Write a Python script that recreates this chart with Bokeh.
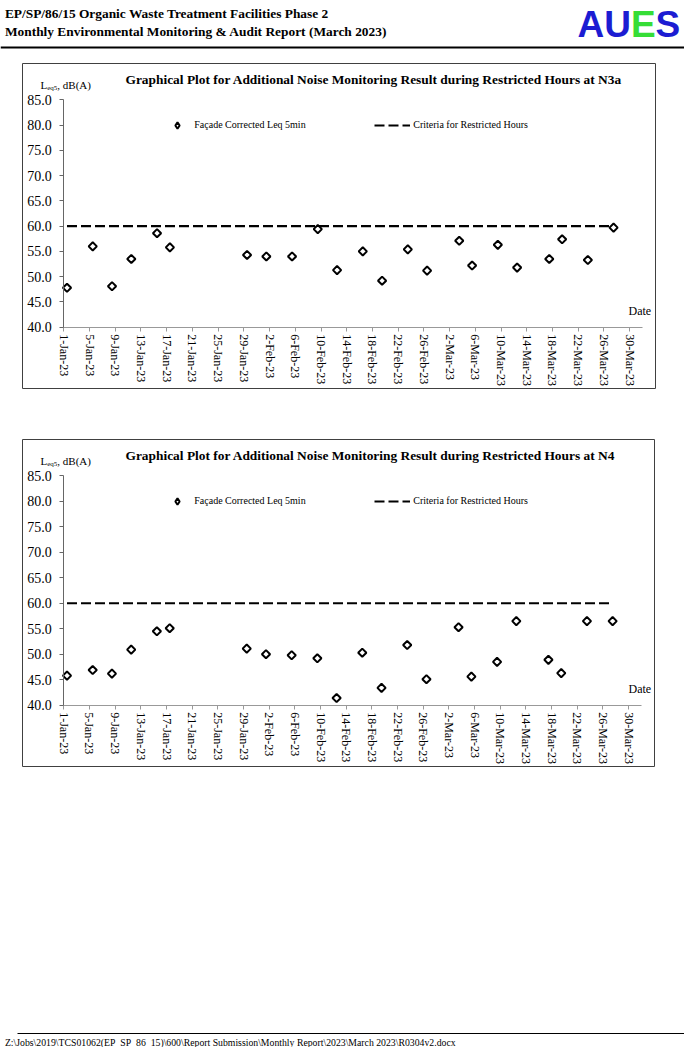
import math
from datetime import date, timedelta

from bokeh.plotting import figure
from bokeh.models import (Range1d, FixedTicker, PrintfTickFormatter, Legend,
                          LegendItem, Label, Span, Spacer)
from bokeh.layouts import column, row
from bokeh.embed import file_html
from bokeh.resources import INLINE

SERIF = "Liberation Serif"
SANS = "Liberation Sans"

# ---------------- texts ----------------
header_line1 = "EP/SP/86/15 Organic Waste Treatment Facilities Phase 2"
header_line2 = "Monthly Environmental Monitoring & Audit Report (March 2023)"
footer_text = r"Z:\Jobs\2019\TCS01062(EP_SP_86_15)\600\Report Submission\Monthly Report\2023\March 2023\R0304v2.docx"
title_n3a = "Graphical Plot for Additional Noise Monitoring Result during Restricted Hours at N3a"
title_n4 = "Graphical Plot for Additional Noise Monitoring Result during Restricted Hours at N4"
legend_points = "Façade Corrected Leq 5min"
legend_criteria = "Criteria for Restricted Hours"
x_title = "Date"

# ---------------- data ----------------
dates = ["2023-01-01", "2023-01-05", "2023-01-08", "2023-01-11", "2023-01-15",
         "2023-01-17", "2023-01-29", "2023-02-01", "2023-02-05", "2023-02-09",
         "2023-02-12", "2023-02-16", "2023-02-19", "2023-02-23", "2023-02-26",
         "2023-03-03", "2023-03-05", "2023-03-09", "2023-03-12", "2023-03-17",
         "2023-03-19", "2023-03-23", "2023-03-27"]
n3a = [47.8, 56.0, 48.1, 53.5, 58.6, 55.8, 54.3, 54.0, 54.0, 59.4, 51.3, 55.0,
       49.2, 55.4, 51.2, 57.1, 52.2, 56.3, 51.8, 53.5, 57.4, 53.3, 59.7]
n4 = [45.8, 46.9, 46.2, 50.9, 54.5, 55.1, 51.1, 50.0, 49.8, 49.2, 41.4, 50.3,
      43.4, 51.8, 45.1, 55.3, 45.6, 48.5, 56.5, 48.9, 46.3, 56.5, 56.5]
criteria_level = 60.0

axis_start = "2023-01-01"
axis_end = "2023-04-01"
tick_step_days = 4
y_ticks = [40, 45, 50, 55, 60, 65, 70, 75, 80, 85]

start_d = date.fromisoformat(axis_start)
span_days = (date.fromisoformat(axis_end) - start_d).days


def day_pos(s):
    # Excel date axis: each value sits in the middle of its day
    return (date.fromisoformat(s) - start_d).days + 0.5


def make_chart(title, values, w, h, pad_l, pad_r, pad_t, pad_b):
    """pad_*: pixels between the box edge and the plot area (axes)."""
    y0, y1 = y_ticks[0], y_ticks[-1]
    ppx = (w - pad_l - pad_r) / span_days
    ppy = (h - pad_t - pad_b) / (y1 - y0)
    xr = Range1d(-pad_l / ppx, span_days + pad_r / ppx)
    yr = Range1d(y0 - pad_b / ppy, y1 + pad_t / ppy)

    xs = [day_pos(s) for s in dates]
    p = figure(width=w, height=h, x_range=xr, y_range=yr,
               output_backend="svg", toolbar_location=None, min_border=0,
               outline_line_color="#404040", outline_line_width=1,
               background_fill_color="white", border_fill_color="white")
    p.title.visible = False
    p.grid.visible = False

    ticks = list(range(0, span_days, tick_step_days))
    labels = {}
    for t in ticks:
        d = start_d + timedelta(days=t)
        labels[t] = f"{d.day}-{d.strftime('%b')}-{d.strftime('%y')}"
    xa = p.xaxis[0]
    xa.fixed_location = y0
    xa.bounds = (0, span_days)
    xa.ticker = FixedTicker(ticks=ticks)
    xa.major_label_overrides = labels
    xa.major_label_orientation = -math.pi / 2
    xa.major_label_text_font = SERIF
    xa.major_label_text_font_size = "12px"
    xa.major_label_text_color = "black"
    xa.major_label_standoff = 3
    xa.major_tick_out = 4
    xa.major_tick_in = 0
    xa.minor_tick_line_color = None
    xa.axis_line_color = "#999999"
    xa.major_tick_line_color = "#999999"

    ya = p.yaxis[0]
    ya.fixed_location = 0
    ya.bounds = (y0, y1)
    ya.ticker = FixedTicker(ticks=y_ticks)
    ya.formatter = PrintfTickFormatter(format="%.1f")
    ya.major_label_text_font = SERIF
    ya.major_label_text_font_size = "14px"
    ya.major_label_text_color = "black"
    ya.major_label_standoff = 8
    ya.major_tick_out = 4
    ya.major_tick_in = 0
    ya.minor_tick_line_color = None
    ya.axis_line_color = "#666666"
    ya.major_tick_line_color = "#666666"

    crit = p.line([xs[0], xs[-1]], [criteria_level, criteria_level],
                  line_color="black", line_width=2.2, line_dash="10 4")
    p.scatter(xs, values, marker="square", angle=math.pi / 4, size=5.8,
              line_color="black", line_width=2, fill_color="white")
    # hidden twin used only as the legend swatch (diamond shape)
    swatch = p.scatter(xs[:1], values[:1], marker="diamond", size=8,
                       line_color="black", line_width=2, fill_color="white",
                       visible=False)

    common = dict(padding=0, margin=0, spacing=0, border_line_alpha=0,
                  background_fill_alpha=0, label_height=12,
                  label_text_font=SERIF, label_text_font_size="10px",
                  label_text_color="black", inactive_fill_alpha=0)
    leg1 = Legend(items=[LegendItem(label=legend_points, renderers=[swatch])],
                  location=(147.3, h - 61.7 - 8), glyph_width=16, glyph_height=16,
                  label_standoff=9, **common)
    leg2 = Legend(items=[LegendItem(label=legend_criteria, renderers=[crit])],
                  location=(352.3, h - 61.7 - 6), glyph_width=36, glyph_height=12,
                  label_standoff=3, **common)
    p.add_layout(leg1)
    p.add_layout(leg2)

    def lab(x, y_from_top, text, size, style="normal"):
        p.add_layout(Label(x=x, y=h - y_from_top, x_units="screen", y_units="screen",
                           text=text, text_font=SERIF, text_font_size=size,
                           text_font_style=style, text_color="black",
                           text_baseline="alphabetic"))

    lab(103, 15.5, title, "13.4px", "bold")
    lab(18, 21, "L", "11px")
    lab(24.7, 24, "eq5", "7px")
    lab(34.8, 21, ", dB(A)", "11px")
    lab(606, h - 79, x_title, "12px")
    return p


# ---------------- header ----------------
hdr = figure(width=684, height=53, x_range=Range1d(0, 684), y_range=Range1d(53, 0),
             output_backend="svg", toolbar_location=None, x_axis_type=None,
             y_axis_type=None, min_border=0, outline_line_color=None)
hdr.title.visible = False
hdr.add_layout(Label(x=4.4, y=12.5, text=header_line1, text_font=SERIF,
                     text_font_size="13.4px", text_font_style="bold",
                     text_color="black", text_baseline="alphabetic"))
hdr.add_layout(Label(x=4.4, y=30.5, text=header_line2, text_font=SERIF,
                     text_font_size="13.4px", text_font_style="bold",
                     text_color="black", text_baseline="alphabetic"))
logo_kw = dict(y=24, text_font=SANS, text_font_size="37px", text_font_style="bold",
               text_baseline="alphabetic")
hdr.add_layout(Label(x=577, text="AU", text_color="#1c1cd2", **logo_kw))
hdr.add_layout(Label(x=630.4, text="E", text_color="#36dd36", **logo_kw))
hdr.add_layout(Label(x=655.1, text="S", text_color="#1c1cd2", **logo_kw))
hdr.add_layout(Span(location=47, dimension="width", line_color="black", line_width=2))

# ---------------- charts ----------------
c1 = make_chart(title_n3a, n3a, 634, 326, 41.3, 14, 36.3, 62.3)
c2 = make_chart(title_n4, n4, 633, 328, 41.3, 14, 36.3, 62.3)

# ---------------- footer ----------------
ftr = figure(width=684, height=22, x_range=Range1d(0, 684), y_range=Range1d(22, 0),
             output_backend="svg", toolbar_location=None, x_axis_type=None,
             y_axis_type=None, min_border=0, outline_line_color=None)
ftr.title.visible = False
ftr.segment(x0=[17], y0=[8], x1=[684], y1=[8], line_color="black", line_width=1.2)
ftr.add_layout(Label(x=4.4, y=16.5, text=footer_text, text_font=SERIF,
                     text_font_size="9.75px", text_color="black",
                     text_baseline="alphabetic"))

page = column(
    hdr,
    Spacer(width=684, height=10),
    row(Spacer(width=22, height=326), c1),
    Spacer(width=684, height=50),
    row(Spacer(width=22, height=328), c2),
    Spacer(width=684, height=258),
    ftr,
)

open("out.html", "w").write(file_html(page, INLINE))
